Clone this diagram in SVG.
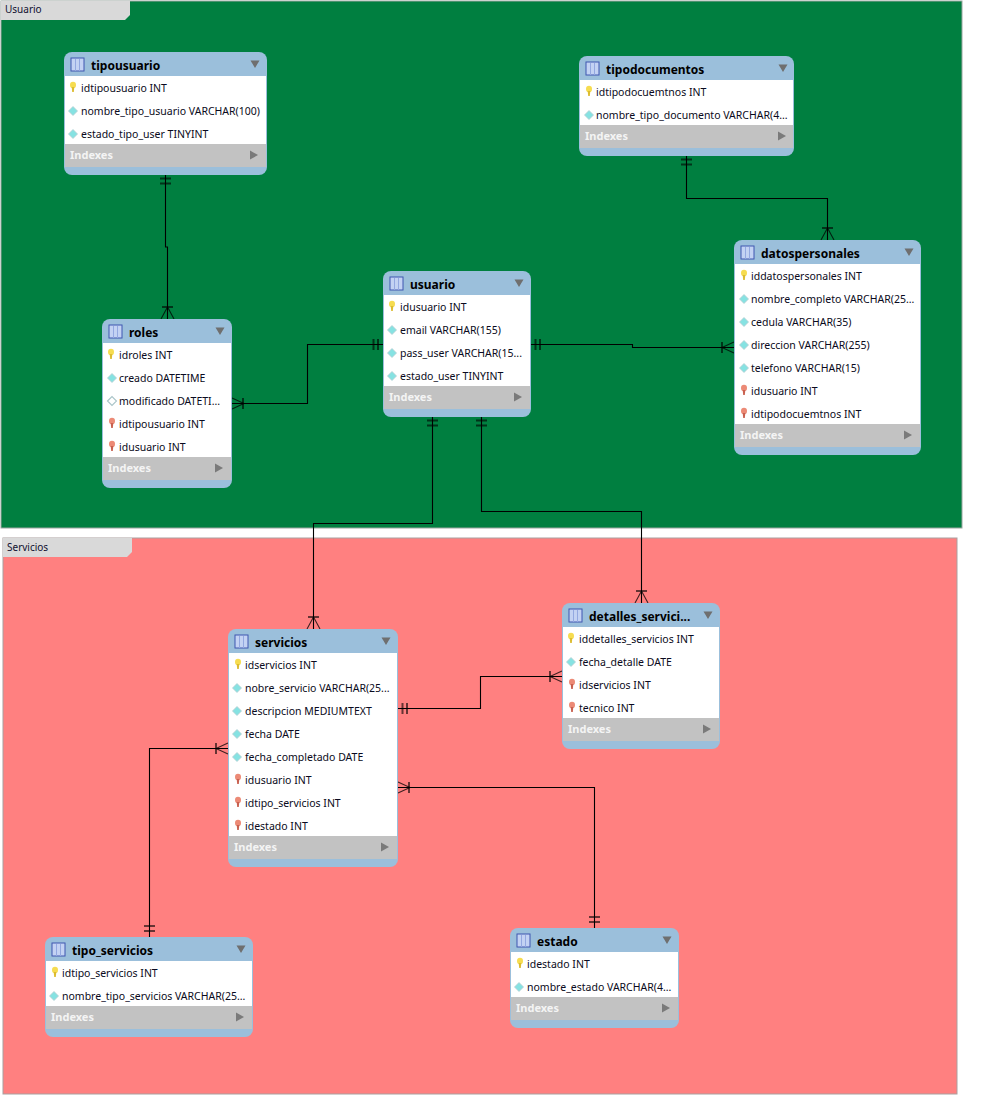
<svg xmlns="http://www.w3.org/2000/svg" width="982" height="1114" viewBox="0 0 982 1114">
<style>
text{font-family:"Noto Sans","Liberation Sans",sans-serif}
.t{font-size:12px;font-weight:700;fill:#000}
.c{font-size:10.5px;fill:#0a0a20}
.i{font-size:11px;font-weight:700;fill:#f4f4f4}
.l{font-size:10px;fill:#101030}
.h{fill:#9bbfdb}.b{fill:#fff}.g{fill:#c2c2c2}
.w{fill:none;stroke:#000;stroke-width:1.1}
.k{fill:none;stroke:#000;stroke-opacity:.6;stroke-width:2}
.f{fill:none;stroke:#000;stroke-opacity:.75;stroke-width:1.1}
</style>
<defs>
<g id="ky"><ellipse cx="0" cy="-3" rx="3" ry="3.300" fill="#f6dc50"/><path d="M-1.300 -1H1.300L.8 4H-.8Z" fill="#dcbc30"/></g>
<g id="kr"><ellipse cx="0" cy="-3" rx="3" ry="3.300" fill="#ec8a76"/><path d="M-1.300 -1H1.300L.8 4H-.8Z" fill="#c8604f"/></g>
<path id="dc" d="M-4.500 0L0-4.500L4.500 0L0 4.500Z" fill="#86e2e2" stroke="#b4cccf" stroke-width=".8"/>
<path id="dh" d="M-4.500 0L0-4.500L4.500 0L0 4.500Z" fill="#fff" stroke="#a9c4c8" stroke-width="1.100"/>
<g id="ti"><rect x="1" y="0" width="13" height="13" fill="#c3d2f3" stroke="#3f57b0"/><path d="M5.500 1V13M9.500 1V13" stroke="#93a8e0"/></g>
<path id="dn" d="M-4.500-3.500H4.500L0 4Z" fill="#6f6f6f"/>
<path id="rt" d="M-4-4.500L4 0L-4 4.500Z" fill="#7a7a7a"/>
</defs>

<g id="layer-usuario">
<rect x="1" y="1" width="961" height="527" fill="#007f40" stroke="#9aa6a0"/>
<path d="M1 1H130V15L125 20H1Z" fill="#d9d9d9"/>
<text class="l" x="5" y="13">Usuario</text>
</g>
<g id="layer-servicios">
<rect x="3" y="538" width="954" height="556" fill="#ff8080" stroke="#a9a0a0"/>
<path d="M3 538H132V552L127 557H3Z" fill="#d9d9d9"/>
<text class="l" x="7" y="551">Servicios</text>
</g>

<g id="connectors">
<path class="w" d="M165.500 175V247H167.500V319"/>
<path class="k" d="M160 178.500H171M160 183.500H171"/>
<path class="k" d="M162 307H173"/><path class="f" d="M167.500 307L161 319M167.500 307L174 319"/>

<path class="w" d="M686.500 156V198.500H827.500V240"/>
<path class="k" d="M681 159.500H692M681 164.500H692"/>
<path class="k" d="M822 228H833"/><path class="f" d="M827.500 228L821 240M827.500 228L834 240"/>

<path class="w" d="M232 403.500H307.500V344.500H383"/>
<path class="f" d="M244 403.500L232 398M244 403.500L232 409"/><path class="k" d="M243 398V409"/>
<path class="k" d="M373.500 339V350M378 339V350"/>

<path class="w" d="M531 344.500H632.500V347.500H734"/>
<path class="k" d="M535.500 339V350M540 339V350"/>
<path class="k" d="M722 342V353"/><path class="f" d="M722 347.500L734 342M722 347.500L734 353"/>

<path class="w" d="M432.500 417V523.500H313.500V629"/>
<path class="k" d="M427 420.500H438M427 425.500H438"/>
<path class="k" d="M308 617H319"/><path class="f" d="M313.500 617L307 629M313.500 617L320 629"/>

<path class="w" d="M481.500 417V511.500H641.500V603"/>
<path class="k" d="M476 420.500H487M476 425.500H487"/>
<path class="k" d="M636 591H647"/><path class="f" d="M641.500 591L635 603M641.500 591L648 603"/>

<path class="w" d="M398 708.500H480.500V676.500H562"/>
<path class="k" d="M402.500 703V714M407 703V714"/>
<path class="k" d="M550 671V682"/><path class="f" d="M550 676.500L562 671M550 676.500L562 682"/>

<path class="w" d="M398 787.500H594.500V928"/>
<path class="f" d="M410 787.500L398 782M410 787.500L398 793"/><path class="k" d="M409 782V793"/>
<path class="k" d="M589 917H600M589 922H600"/>

<path class="w" d="M228 748.500H149.500V937"/>
<path class="k" d="M216 743V754"/><path class="f" d="M216 748.500L228 743M216 748.500L228 754"/>
<path class="k" d="M144 926H155M144 931H155"/>
</g>

<g id="tipousuario">
<rect class="h" x="64" y="52" width="203" height="123" rx="8"/><rect class="b" x="65" y="76" width="201" height="68"/><rect class="g" x="65" y="144" width="201" height="23"/>
<use href="#ti" x="70" y="58"/><text class="t" x="91" y="70">tipousuario</text><use href="#dn" x="255" y="64"/>
<use href="#ky" x="73" y="88"/><text class="c" x="81" y="92">idtipousuario INT</text>
<use href="#dc" x="73" y="111"/><text class="c" x="81" y="115">nombre_tipo_usuario VARCHAR(100)</text>
<use href="#dc" x="73" y="134"/><text class="c" x="81" y="138">estado_tipo_user TINYINT</text>
<text class="i" x="70" y="159">Indexes</text><use href="#rt" x="254" y="155"/>
</g>

<g id="tipodocumentos">
<rect class="h" x="579" y="56" width="215" height="100" rx="8"/><rect class="b" x="580" y="80" width="213" height="45"/><rect class="g" x="580" y="125" width="213" height="23"/>
<use href="#ti" x="585" y="62"/><text class="t" x="606" y="74">tipodocumentos</text><use href="#dn" x="783" y="68"/>
<use href="#ky" x="589" y="92"/><text class="c" x="596" y="96">idtipodocuemtnos INT</text>
<use href="#dc" x="589" y="115"/><text class="c" x="596" y="119">nombre_tipo_documento VARCHAR(4...</text>
<text class="i" x="585" y="140">Indexes</text><use href="#rt" x="782" y="136"/>
</g>

<g id="datospersonales">
<rect class="h" x="734" y="240" width="187" height="215" rx="8"/><rect class="b" x="735" y="264" width="185" height="160"/><rect class="g" x="735" y="424" width="185" height="23"/>
<use href="#ti" x="740" y="246"/><text class="t" x="761" y="258">datospersonales</text><use href="#dn" x="909" y="252"/>
<use href="#ky" x="744" y="276"/><text class="c" x="751" y="280">iddatospersonales INT</text>
<use href="#dc" x="744" y="299"/><text class="c" x="751" y="303">nombre_completo VARCHAR(25...</text>
<use href="#dc" x="744" y="322"/><text class="c" x="751" y="326">cedula VARCHAR(35)</text>
<use href="#dc" x="744" y="345"/><text class="c" x="751" y="349">direccion VARCHAR(255)</text>
<use href="#dc" x="744" y="368"/><text class="c" x="751" y="372">telefono VARCHAR(15)</text>
<use href="#kr" x="744" y="391"/><text class="c" x="751" y="395">idusuario INT</text>
<use href="#kr" x="744" y="414"/><text class="c" x="751" y="418">idtipodocuemtnos INT</text>
<text class="i" x="740" y="439">Indexes</text><use href="#rt" x="908" y="435"/>
</g>

<g id="usuario">
<rect class="h" x="383" y="271" width="148" height="146" rx="8"/><rect class="b" x="384" y="295" width="146" height="91"/><rect class="g" x="384" y="386" width="146" height="23"/>
<use href="#ti" x="389" y="277"/><text class="t" x="410" y="289">usuario</text><use href="#dn" x="519" y="283"/>
<use href="#ky" x="392" y="307"/><text class="c" x="400" y="311">idusuario INT</text>
<use href="#dc" x="392" y="330"/><text class="c" x="400" y="334">email VARCHAR(155)</text>
<use href="#dc" x="392" y="353"/><text class="c" x="400" y="357">pass_user VARCHAR(15...</text>
<use href="#dc" x="392" y="376"/><text class="c" x="400" y="380">estado_user TINYINT</text>
<text class="i" x="389" y="401">Indexes</text><use href="#rt" x="518" y="397"/>
</g>

<g id="roles">
<rect class="h" x="102" y="319" width="130" height="169" rx="8"/><rect class="b" x="103" y="343" width="128" height="114"/><rect class="g" x="103" y="457" width="128" height="23"/>
<use href="#ti" x="108" y="325"/><text class="t" x="129" y="337">roles</text><use href="#dn" x="220" y="331"/>
<use href="#ky" x="111" y="355"/><text class="c" x="119" y="359">idroles INT</text>
<use href="#dc" x="112" y="378"/><text class="c" x="119" y="382">creado DATETIME</text>
<use href="#dh" x="112" y="401"/><text class="c" x="119" y="405">modificado DATETI...</text>
<use href="#kr" x="112" y="424"/><text class="c" x="119" y="428">idtipousuario INT</text>
<use href="#kr" x="112" y="447"/><text class="c" x="119" y="451">idusuario INT</text>
<text class="i" x="108" y="472">Indexes</text><use href="#rt" x="219" y="468"/>
</g>

<g id="servicios">
<rect class="h" x="228" y="629" width="170" height="238" rx="8"/><rect class="b" x="229" y="653" width="168" height="183"/><rect class="g" x="229" y="836" width="168" height="23"/>
<use href="#ti" x="234" y="635"/><text class="t" x="255" y="647">servicios</text><use href="#dn" x="386" y="641"/>
<use href="#ky" x="238" y="665"/><text class="c" x="245" y="669">idservicios INT</text>
<use href="#dc" x="237" y="688"/><text class="c" x="245" y="692">nobre_servicio VARCHAR(25...</text>
<use href="#dc" x="237" y="711"/><text class="c" x="245" y="715">descripcion MEDIUMTEXT</text>
<use href="#dc" x="237" y="734"/><text class="c" x="245" y="738">fecha DATE</text>
<use href="#dc" x="237" y="757"/><text class="c" x="245" y="761">fecha_completado DATE</text>
<use href="#kr" x="238" y="780"/><text class="c" x="245" y="784">idusuario INT</text>
<use href="#kr" x="238" y="803"/><text class="c" x="245" y="807">idtipo_servicios INT</text>
<use href="#kr" x="238" y="826"/><text class="c" x="245" y="830">idestado INT</text>
<text class="i" x="234" y="851">Indexes</text><use href="#rt" x="385" y="847"/>
</g>

<g id="detalles_servicios">
<rect class="h" x="562" y="603" width="158" height="146" rx="8"/><rect class="b" x="563" y="627" width="156" height="91"/><rect class="g" x="563" y="718" width="156" height="23"/>
<use href="#ti" x="568" y="609"/><text class="t" x="589" y="621">detalles_servici...</text><use href="#dn" x="708" y="615"/>
<use href="#ky" x="571" y="639"/><text class="c" x="579" y="643">iddetalles_servicios INT</text>
<use href="#dc" x="571" y="662"/><text class="c" x="579" y="666">fecha_detalle DATE</text>
<use href="#kr" x="572" y="685"/><text class="c" x="579" y="689">idservicios INT</text>
<use href="#kr" x="572" y="708"/><text class="c" x="579" y="712">tecnico INT</text>
<text class="i" x="568" y="733">Indexes</text><use href="#rt" x="707" y="729"/>
</g>

<g id="tipo_servicios">
<rect class="h" x="45" y="937" width="208" height="100" rx="8"/><rect class="b" x="46" y="961" width="206" height="45"/><rect class="g" x="46" y="1006" width="206" height="23"/>
<use href="#ti" x="51" y="943"/><text class="t" x="72" y="955">tipo_servicios</text><use href="#dn" x="241" y="949"/>
<use href="#ky" x="55" y="973"/><text class="c" x="62" y="977">idtipo_servicios INT</text>
<use href="#dc" x="54" y="996"/><text class="c" x="62" y="1000">nombre_tipo_servicios VARCHAR(25...</text>
<text class="i" x="51" y="1021">Indexes</text><use href="#rt" x="240" y="1017"/>
</g>

<g id="estado">
<rect class="h" x="510" y="928" width="169" height="100" rx="8"/><rect class="b" x="511" y="952" width="167" height="45"/><rect class="g" x="511" y="997" width="167" height="23"/>
<use href="#ti" x="516" y="934"/><text class="t" x="537" y="946">estado</text><use href="#dn" x="667" y="940"/>
<use href="#ky" x="520" y="964"/><text class="c" x="527" y="968">idestado INT</text>
<use href="#dc" x="519" y="987"/><text class="c" x="527" y="991">nombre_estado VARCHAR(4...</text>
<text class="i" x="516" y="1012">Indexes</text><use href="#rt" x="666" y="1008"/>
</g>
</svg>
